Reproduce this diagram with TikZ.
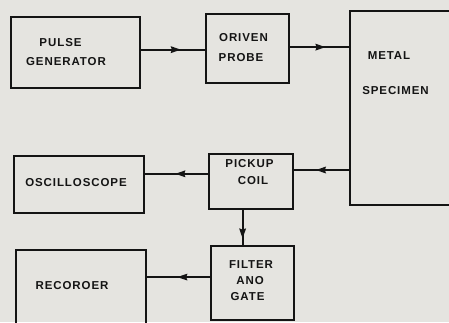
\documentclass[tikz,border=0pt]{standalone}
\usepackage{fontspec}
\setmainfont{Liberation Sans}
\newfontfamily\labfont[LetterSpace=8]{Liberation Sans}
\usetikzlibrary{decorations.markings,arrows.meta,calc}
\definecolor{bg}{RGB}{229,228,224}
\definecolor{ink}{RGB}{20,20,20}
\tikzset{
  box/.style={draw=ink, line width=1.8pt, inner sep=0pt, outer sep=0pt},
  lab/.style={inner sep=0pt, anchor=center, text=ink, font=\labfont\bfseries\fontsize{11.5}{12}\selectfont},
  conn/.style={draw=ink, line width=1.9pt},
  midarr/.style={postaction={decorate}, decoration={markings, mark=at position #1 with {\arrow[ink]{Stealth[length=10pt,width=6.5pt,inset=1pt]}}}}
}
\begin{document}
\begin{tikzpicture}[x=1pt,y=-1pt]
\useasboundingbox[fill=bg] (0,0) rectangle (449,322);
\clip (0,0) rectangle (449,322);
% boxes
\node[box, minimum width=129pt, minimum height=71pt] (pg) at (75.5,52.5) {};
\node[box, minimum width=83pt, minimum height=69pt] (dp) at (247.5,48.5) {};
\node[box, minimum width=120pt, minimum height=194pt] (ms) at (410,108) {};
\node[box, minimum width=130pt, minimum height=57pt] (osc) at (79,184.5) {};
\node[box, minimum width=84pt, minimum height=55pt] (pc) at (251,181.5) {};
\node[box, minimum width=83pt, minimum height=74pt] (fg) at (252.5,283) {};
\node[box, minimum width=130pt, minimum height=90pt] (rec) at (81,295) {};
% labels
\node[lab] (t1) at (60.5,43) {PULSE};
\node[lab] (t2) at (66,62) {GENERATOR};
\node[lab] (t3) at (243.5,38) {ORIVEN};
\node[lab] (t4) at (241,58) {PROBE};
\node[lab] (t5) at (389,56) {METAL};
\node[lab] (t6) at (395.5,91) {SPECIMEN};
\node[lab] (t7) at (76,183) {OSCILLOSCOPE};
\node[lab] (t8) at (249.5,164) {PICKUP};
\node[lab] (t9) at (253,181) {COIL};
\node[lab] (t10) at (251,265) {FILTER};
\node[lab] (t11) at (250,281) {ANO};
\node[lab] (t12) at (247.5,297) {GATE};
\node[lab] (t13) at (72,286) {RECOROER};
% connectors
\coordinate (pgo) at ($(pg.north east)!0.46!(pg.south east)$);
\draw[conn, midarr=0.62] (pgo) -- (pgo -| dp.west);
\coordinate (dpo) at ($(dp.north east)!0.48!(dp.south east)$);
\draw[conn, midarr=0.6] (dpo) -- (dpo -| ms.west);
\coordinate (msout) at ($(pc.north east)!0.291!(pc.south east)$);
\draw[conn, midarr=0.6] (msout -| ms.west) -- (msout);
\coordinate (pcl) at ($(pc.north west)!0.36!(pc.south west)$);
\draw[conn, midarr=0.52] (pcl) -- (pcl -| osc.east);
\coordinate (pcb) at ($(pc.south west)!0.4!(pc.south east)$);
\draw[conn, midarr=0.8] (pcb) -- (pcb |- fg.north);
\coordinate (fgl) at ($(fg.north west)!0.42!(fg.south west)$);
\draw[conn, midarr=0.52] (fgl) -- (fgl -| rec.east);
\end{tikzpicture}
\end{document}
